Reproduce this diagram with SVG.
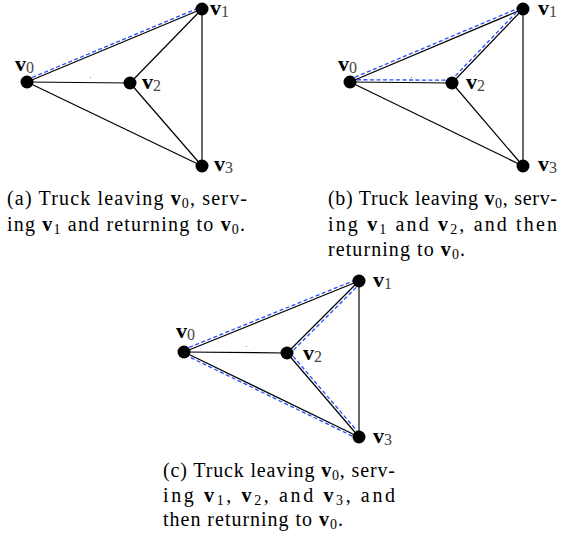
<svg xmlns="http://www.w3.org/2000/svg" width="570" height="535" viewBox="0 0 570 535">
<style>
.e{stroke:#000;stroke-width:1.2;fill:none}
.e13{stroke:#444;stroke-width:1.6;fill:none}
.p{stroke:#2a4bff;stroke-width:1.3;stroke-dasharray:4 2.5;fill:none}
.n{fill:#000}
.lbl{font-family:"Liberation Serif","Times New Roman",serif;font-size:22px;fill:#000}
.b{font-weight:bold}
.s{font-size:16px;font-weight:normal;fill:#444}
.cap{font-family:"Liberation Serif","Times New Roman",serif;font-size:20px;fill:#000}
.cs{font-size:14px}
.dot{fill:#888}
</style>
<rect width="570" height="535" fill="#fff"/>

<!-- Figure (a) -->
<g id="fig-a">
<g id="a-edges">
<line class="e" x1="27" y1="82" x2="202" y2="9"/>
<line class="e" x1="27" y1="82" x2="130" y2="83"/>
<line class="e" x1="27" y1="82" x2="202" y2="166"/>
<line class="e" x1="130" y1="83" x2="202" y2="9"/>
<line class="e" x1="130" y1="83" x2="202" y2="166"/>
<line class="e13" x1="202" y1="9" x2="202" y2="166"/>
<polyline class="p" points="26.2,80 201.2,7"/>
<rect class="dot" x="90" y="77" width="1" height="1"/>
</g>
<g id="a-v0"><circle class="n" cx="27" cy="82" r="6.5"/><text class="lbl" x="15" y="71"><tspan class="b">v</tspan><tspan class="s" dy="2">0</tspan></text></g>
<g id="a-v1"><circle class="n" cx="202" cy="9" r="6.5"/><text class="lbl" x="210" y="15"><tspan class="b">v</tspan><tspan class="s" dy="2">1</tspan></text></g>
<g id="a-v2"><circle class="n" cx="130" cy="83" r="6.5"/><text class="lbl" x="142" y="89"><tspan class="b">v</tspan><tspan class="s" dy="2">2</tspan></text></g>
<g id="a-v3"><circle class="n" cx="202" cy="166" r="6.5"/><text class="lbl" x="214" y="171"><tspan class="b">v</tspan><tspan class="s" dy="2">3</tspan></text></g>
<g id="a-caption">
<text class="cap" x="7" y="205" textLength="240" lengthAdjust="spacing">(a) Truck leaving <tspan font-weight="bold">v</tspan><tspan class="cs" dy="3">0</tspan><tspan dy="-3">, serv-</tspan></text>
<text class="cap" x="7" y="231" textLength="238" lengthAdjust="spacing">ing <tspan font-weight="bold">v</tspan><tspan class="cs" dy="3">1</tspan><tspan dy="-3"> and returning to </tspan><tspan font-weight="bold">v</tspan><tspan class="cs" dy="3">0</tspan><tspan dy="-3">.</tspan></text>
</g>
</g>

<!-- Figure (b) -->
<g id="fig-b">
<g id="b-edges">
<line class="e" x1="350" y1="82" x2="523" y2="9"/>
<line class="e" x1="350" y1="82" x2="452" y2="83"/>
<line class="e" x1="350" y1="82" x2="523" y2="166"/>
<line class="e" x1="452" y1="83" x2="523" y2="9"/>
<line class="e" x1="452" y1="83" x2="523" y2="166"/>
<line class="e13" x1="523" y1="9" x2="523" y2="166"/>
<polyline class="p" points="349,79.7 522,6.7"/>
<polyline class="p" points="521.2,7.3 450.2,81.3"/>
<polyline class="p" points="452,80.2 350,79.7"/>
<rect class="dot" x="411" y="77" width="1" height="1"/>
</g>
<g id="b-v0"><circle class="n" cx="350" cy="82" r="6.5"/><text class="lbl" x="338" y="71"><tspan class="b">v</tspan><tspan class="s" dy="2">0</tspan></text></g>
<g id="b-v1"><circle class="n" cx="523" cy="9" r="6.5"/><text class="lbl" x="538" y="15"><tspan class="b">v</tspan><tspan class="s" dy="2">1</tspan></text></g>
<g id="b-v2"><circle class="n" cx="452" cy="83" r="6.5"/><text class="lbl" x="466" y="89"><tspan class="b">v</tspan><tspan class="s" dy="2">2</tspan></text></g>
<g id="b-v3"><circle class="n" cx="523" cy="166" r="6.5"/><text class="lbl" x="538" y="171"><tspan class="b">v</tspan><tspan class="s" dy="2">3</tspan></text></g>
<g id="b-caption">
<text class="cap" x="328" y="205" textLength="229" lengthAdjust="spacing">(b) Truck leaving <tspan font-weight="bold">v</tspan><tspan class="cs" dy="3">0</tspan><tspan dy="-3">, serv-</tspan></text>
<text class="cap" x="328" y="231" textLength="229" lengthAdjust="spacing">ing <tspan font-weight="bold">v</tspan><tspan class="cs" dy="3">1</tspan><tspan dy="-3"> and </tspan><tspan font-weight="bold">v</tspan><tspan class="cs" dy="3">2</tspan><tspan dy="-3">, and then</tspan></text>
<text class="cap" x="328" y="256" textLength="137" lengthAdjust="spacing">returning to <tspan font-weight="bold">v</tspan><tspan class="cs" dy="3">0</tspan><tspan dy="-3">.</tspan></text>
</g>
</g>

<!-- Figure (c) -->
<g id="fig-c">
<g id="c-edges">
<line class="e" x1="184" y1="352" x2="359" y2="281"/>
<line class="e" x1="184" y1="352" x2="287" y2="353"/>
<line class="e" x1="184" y1="352" x2="359" y2="437"/>
<line class="e" x1="287" y1="353" x2="359" y2="281"/>
<line class="e" x1="287" y1="353" x2="359" y2="437"/>
<line class="e13" x1="359" y1="281" x2="359" y2="437"/>
<polyline class="p" points="183.2,349.8 358.2,278.8"/>
<polyline class="p" points="360.8,282.8 288.8,354.8"/>
<polyline class="p" points="288.9,351.4 360.9,435.4"/>
<polyline class="p" points="358.1,438.9 183.1,353.9"/>
<rect class="dot" x="246" y="346" width="1" height="1"/>
</g>
<g id="c-v0"><circle class="n" cx="184" cy="352" r="6.5"/><text class="lbl" x="176" y="338"><tspan class="b">v</tspan><tspan class="s" dy="2">0</tspan></text></g>
<g id="c-v1"><circle class="n" cx="359" cy="281" r="6.5"/><text class="lbl" x="373" y="287"><tspan class="b">v</tspan><tspan class="s" dy="2">1</tspan></text></g>
<g id="c-v2"><circle class="n" cx="287" cy="353" r="6.5"/><text class="lbl" x="303" y="360"><tspan class="b">v</tspan><tspan class="s" dy="2">2</tspan></text></g>
<g id="c-v3"><circle class="n" cx="359" cy="437" r="6.5"/><text class="lbl" x="373" y="443"><tspan class="b">v</tspan><tspan class="s" dy="2">3</tspan></text></g>
<g id="c-caption">
<text class="cap" x="163" y="477" textLength="232" lengthAdjust="spacing">(c) Truck leaving <tspan font-weight="bold">v</tspan><tspan class="cs" dy="3">0</tspan><tspan dy="-3">, serv-</tspan></text>
<text class="cap" x="163" y="502" textLength="232" lengthAdjust="spacing">ing <tspan font-weight="bold">v</tspan><tspan class="cs" dy="3">1</tspan><tspan dy="-3">, </tspan><tspan font-weight="bold">v</tspan><tspan class="cs" dy="3">2</tspan><tspan dy="-3">, and </tspan><tspan font-weight="bold">v</tspan><tspan class="cs" dy="3">3</tspan><tspan dy="-3">, and</tspan></text>
<text class="cap" x="163" y="526" textLength="180" lengthAdjust="spacing">then returning to <tspan font-weight="bold">v</tspan><tspan class="cs" dy="3">0</tspan><tspan dy="-3">.</tspan></text>
</g>
</g>
</svg>
